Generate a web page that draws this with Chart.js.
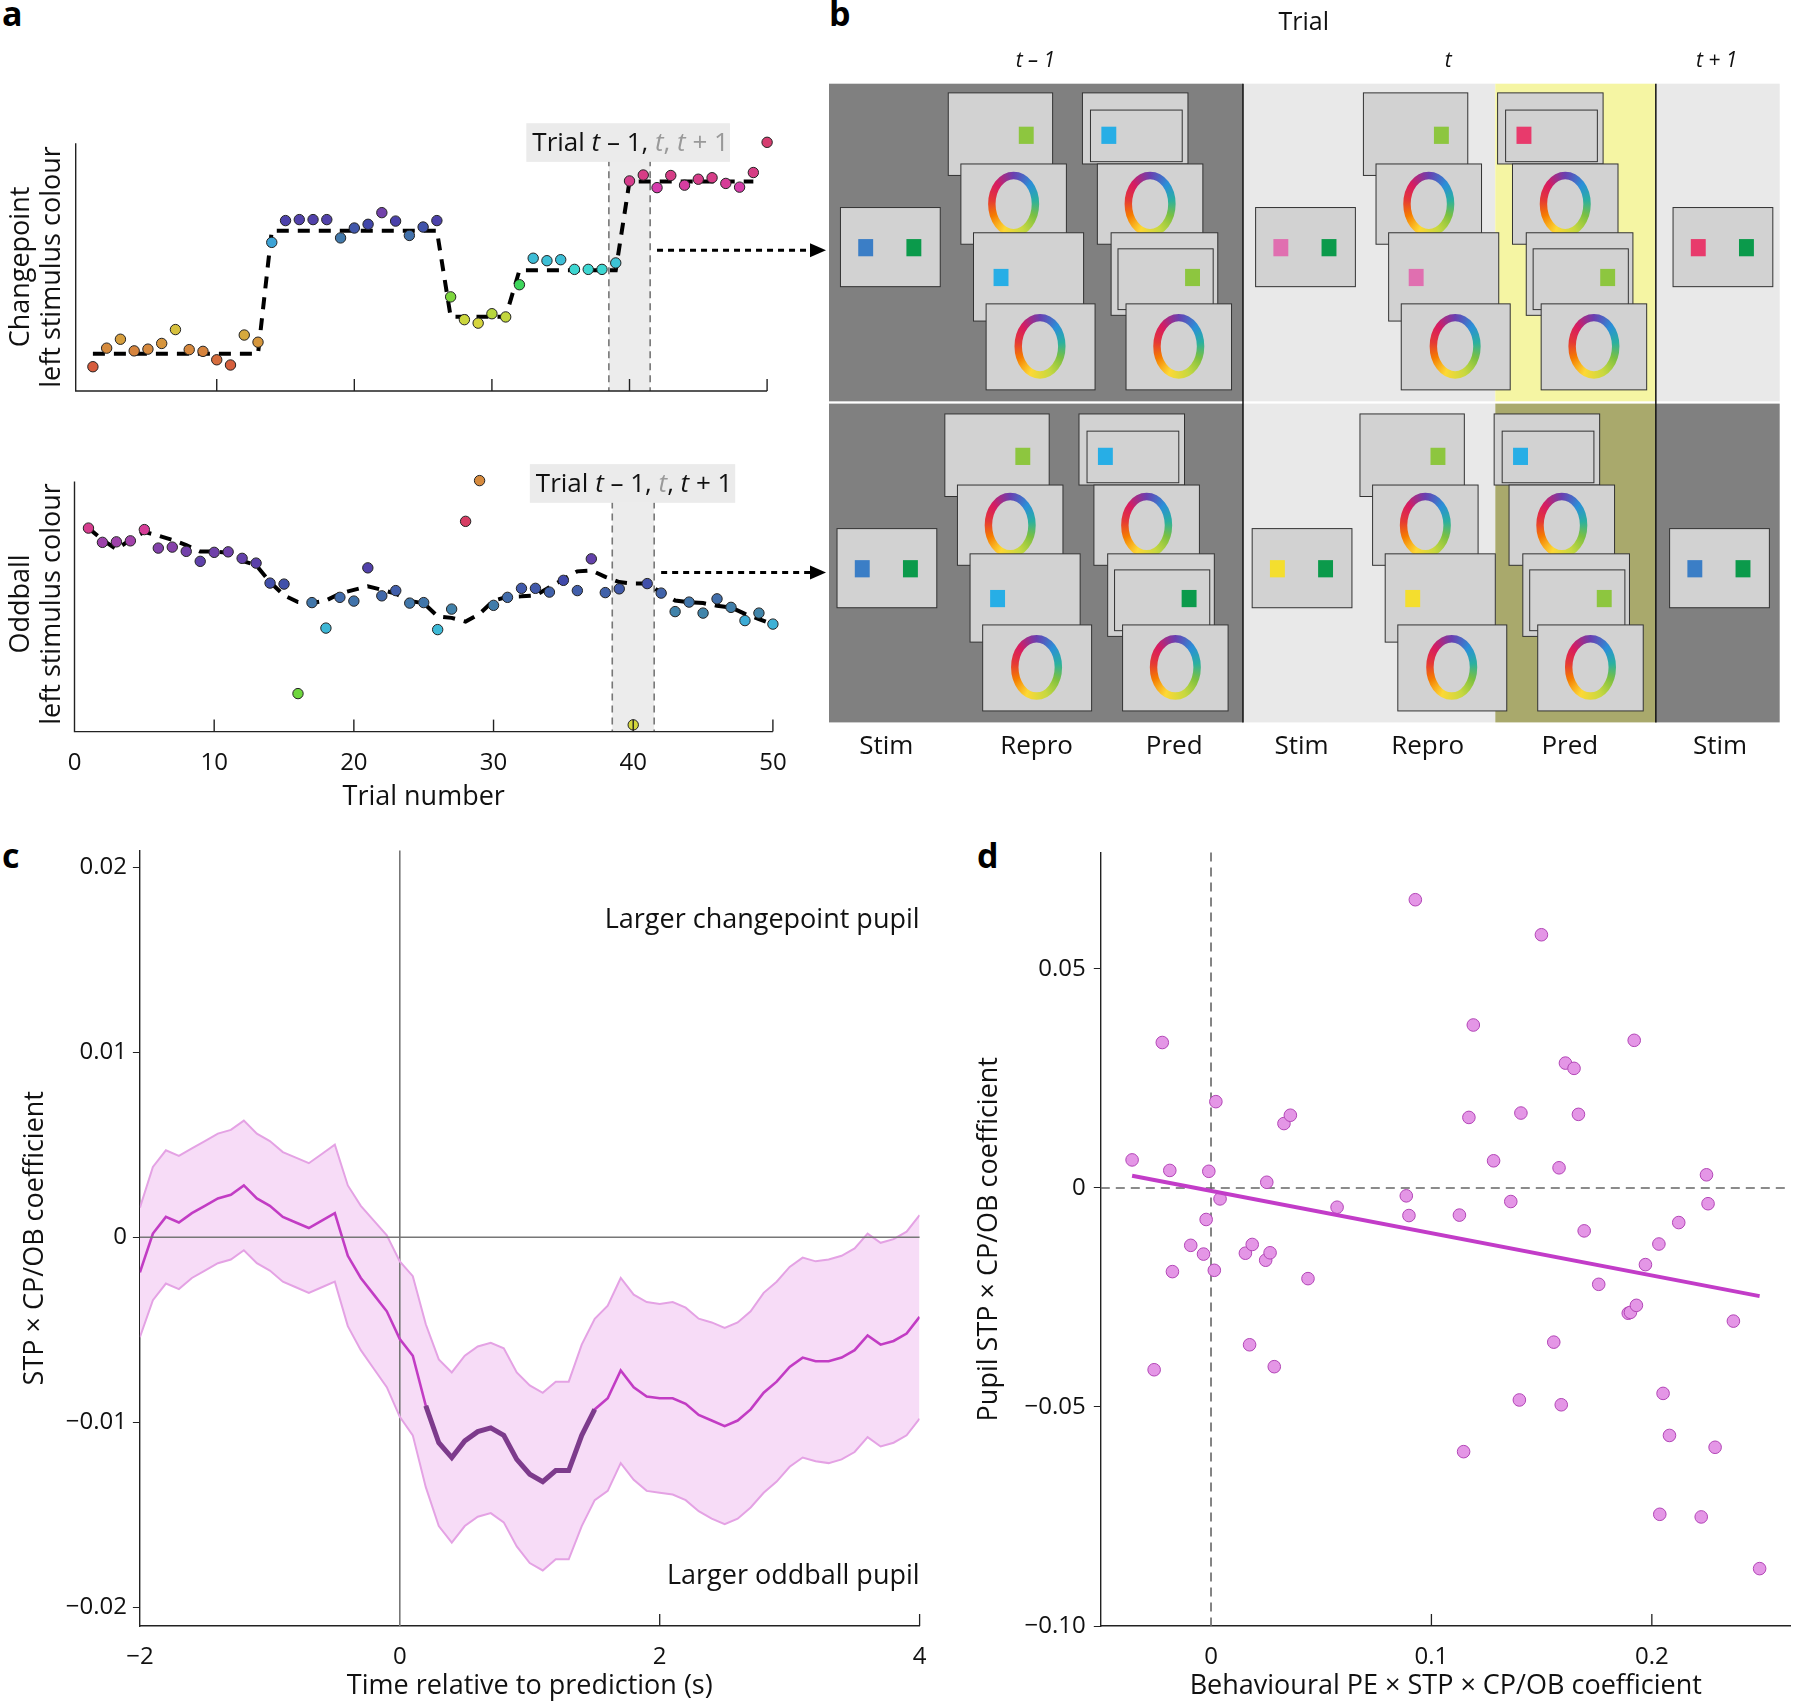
<!DOCTYPE html>
<html><head><meta charset="utf-8">
<script src="https://cdn.jsdelivr.net/npm/chart.js@4.4.1/dist/chart.umd.min.js"></script>
<style>
body{margin:0;background:#fff;width:1798px;height:1703px;position:relative;overflow:hidden;font-family:"Open Sans",sans-serif}
canvas{position:absolute}
.lab{position:absolute;font:bold 34px "Open Sans",sans-serif;color:#000}
</style></head><body>
<div class="lab" style="left:2px;top:-10px">a</div>
<div class="lab" style="left:829px;top:-10px">b</div>
<div class="lab" style="left:2px;top:832px">c</div>
<div class="lab" style="left:977px;top:832px">d</div>
<canvas id="aTop" style="left:0;top:100px" width="830" height="310"></canvas>
<canvas id="aBot" style="left:0;top:440px" width="830" height="380"></canvas>
<canvas id="b" style="left:780px;top:0" width="1018" height="790"></canvas>
<canvas id="c" style="left:0;top:830px" width="940" height="873"></canvas>
<canvas id="d" style="left:940px;top:830px" width="858" height="873"></canvas>
<script>
// ---------- DATA ----------
const trials = Array.from({length:50},(_,i)=>i+1);
const cpValues = [9.8,17.3,20.9,16.2,16.9,19.2,24.8,16.7,16.0,12.6,10.5,22.6,19.7,60.0,68.8,69.2,69.2,69.2,61.8,65.8,67.3,72.0,68.6,62.8,66.2,68.8,38.0,28.8,27.4,31.2,29.9,42.9,53.6,52.6,53.0,49.1,49.1,49.1,51.7,84.8,87.2,82.1,87.0,83.1,85.5,86.1,83.8,82.3,88.2,100.4];
const cpMean = [15,15,15,15,15,15,15,15,15,15,15,15,15,64.7,64.7,64.7,64.7,64.7,64.7,64.7,64.7,64.7,64.7,64.7,64.7,64.7,30,30,30,30,30,48.7,48.7,48.7,48.7,48.7,48.7,48.7,48.7,84.6,84.6,84.6,84.6,84.6,84.6,84.6,84.6,84.6,84.6,null];
const obValues = [81.4,75.7,75.9,76.3,80.8,73.4,73.8,72.1,68.1,71.7,71.9,69.3,67.4,59.4,59.0,15.2,51.6,41.4,53.7,52.2,65.5,54.3,56.4,51.4,51.6,40.8,49.0,84.1,100.4,50.5,53.7,57.3,57.3,55.8,60.5,56.4,69.1,55.6,57.1,2.7,59.2,55.4,48.0,51.8,47.4,53.1,49.7,44.4,47.4,43.0];
const obMean = [81.4,76.7,73,76.7,79.9,78.4,76.7,74.6,72,72,71.5,68.3,66.6,59.8,54.5,51.8,51.4,52.4,55.2,56.7,58.1,56.7,55.2,52.2,51.4,46.1,45.5,44,47.1,52.4,53.9,54.1,54.5,57.7,60.9,64.1,64.5,61.9,59.8,59.2,59.2,55.6,52.4,51.8,51.4,50.3,49.7,47.1,45,42.9];
const trialTicks = [0,10,20,30,40,50];

const timeS = [-2,-1.9,-1.8,-1.7,-1.6,-1.5,-1.4,-1.3,-1.2,-1.1,-1,-0.9,-0.8,-0.7,-0.6,-0.5,-0.4,-0.3,-0.2,-0.1,0,0.1,0.2,0.3,0.4,0.5,0.6,0.7,0.8,0.9,1,1.1,1.2,1.3,1.4,1.5,1.6,1.7,1.8,1.9,2,2.1,2.2,2.3,2.4,2.5,2.6,2.7,2.8,2.9,3,3.1,3.2,3.3,3.4,3.5,3.6,3.7,3.8,3.9,4];
const coefMean = [-0.0019,0.0002,0.0011,0.0008,0.0013,0.0017,0.0021,0.0023,0.0028,0.0021,0.0017,0.0011,0.0008,0.0005,0.0009,0.0013,-0.001,-0.0022,-0.0031,-0.004,-0.0055,-0.0064,-0.0091,-0.0111,-0.0119,-0.011,-0.0105,-0.0103,-0.0107,-0.012,-0.0128,-0.0132,-0.0126,-0.0126,-0.0107,-0.0093,-0.0087,-0.0072,-0.0081,-0.0086,-0.0087,-0.0087,-0.009,-0.0096,-0.0099,-0.0102,-0.0099,-0.0093,-0.0084,-0.0078,-0.007,-0.0065,-0.0067,-0.0067,-0.0065,-0.0061,-0.0053,-0.0058,-0.0056,-0.0052,-0.0043];
const coefHalfCI = [0.0035,0.0036,0.0036,0.0036,0.0035,0.0035,0.0035,0.0035,0.0035,0.0035,0.0035,0.0035,0.0035,0.0035,0.0036,0.0037,0.0038,0.0039,0.004,0.0041,0.0042,0.0043,0.0044,0.0045,0.0046,0.0046,0.0046,0.0046,0.0047,0.0047,0.0048,0.0048,0.0048,0.0048,0.0049,0.0049,0.005,0.005,0.005,0.0051,0.0051,0.0052,0.0052,0.0052,0.0053,0.0053,0.0053,0.0053,0.0054,0.0054,0.0054,0.0054,0.0054,0.0055,0.0055,0.0055,0.0055,0.0055,0.0055,0.0055,0.0055];
const sigStart = 0.2, sigEnd = 1.5;
const cYTicks = [-0.02,-0.01,0,0.01,0.02];
const cYLabels = ['−0.02','−0.01','0','0.01','0.02'];
const cXTicks = [-2,0,2,4];
const cXLabels = ['−2','0','2','4'];

const behavPE = [-0.0358,-0.0221,-0.0258,-0.0187,-0.0175,-0.0092,-0.0034,-0.0022,-0.001,0.0015,0.0022,0.0041,0.0156,0.0175,0.0187,0.0248,0.0253,0.0268,0.0287,0.0331,0.036,0.044,0.0572,0.0886,0.0898,0.0927,0.1127,0.1146,0.117,0.119,0.1282,0.136,0.1399,0.1406,0.1499,0.1555,0.1579,0.1589,0.1608,0.1647,0.1667,0.1693,0.1759,0.1893,0.1903,0.192,0.193,0.1971,0.2032,0.2036,0.2051,0.208,0.2122,0.2224,0.2248,0.2255,0.2287,0.237,0.2489];
const pupilCoef = [0.0064,0.0332,-0.0415,0.004,-0.0191,-0.0131,-0.0151,-0.0072,0.0038,-0.0188,0.0197,-0.0025,-0.0149,-0.0358,-0.0129,-0.0165,0.0013,-0.0148,-0.0408,0.0147,0.0166,-0.0207,-0.0044,-0.0018,-0.0063,0.0658,-0.0062,-0.0602,0.0161,0.0372,0.0062,-0.0031,-0.0484,0.0171,0.0578,-0.0352,0.0046,-0.0495,0.0285,0.0273,0.0168,-0.0098,-0.022,-0.0286,-0.0284,0.0337,-0.0268,-0.0175,-0.0128,-0.0745,-0.0469,-0.0565,-0.0079,-0.0751,0.003,-0.0036,-0.0592,-0.0304,-0.0869];
const fitX = [-0.0358,0.2489];
const fitY = [0.0028,-0.0247];
const dYTicks = [-0.1,-0.05,0,0.05];
const dYLabels = ['−0.10','−0.05','0','0.05'];
const dXTicks = [0,0.1,0.2];
const dXLabels = ['0','0.1','0.2'];

// ---------- helpers ----------
const FONT = '"Open Sans", sans-serif';
const TICK = 24, TITLE = 27;
Chart.defaults.font.family = FONT;
Chart.defaults.color = '#111';
Chart.defaults.animation = false;
function interpHue(v, pts){
  if(v<=pts[0][0]) return pts[0][1];
  for(let i=1;i<pts.length;i++){ if(v<=pts[i][0]){const a=pts[i-1],b=pts[i];return a[1]+(b[1]-a[1])*(v-a[0])/(b[0]-a[0]);} }
  return pts[pts.length-1][1];
}
const cpHue = [[10,12],[17,30],[22,40],[25,52],[29,65],[38,95],[50,185],[60,200],[66,228],[72,268],[85,330],[100,340]];
const obHue = [[0,52],[15,100],[40,190],[50,205],[58,228],[72,268],[84,345],[100,390]];
const hsl = h=>{h=h%360; const blue=(h>200&&h<300); return `hsl(${h},${blue?45:65}%,${blue?46:54}%)`;};
const fixTicks = arr => s => { s.ticks = arr.map(v=>({value:v})); };

function panelAPlugin(opts){
  return {id:'pa', beforeDatasetsDraw(ch){
    const c=ch.ctx, x=ch.scales.x, y=ch.scales.y, a=ch.chartArea;
    const x1=x.getPixelForValue(38.5), x2=x.getPixelForValue(41.5), yt=y.getPixelForValue(opts.bandTop);
    c.save(); c.fillStyle='#ececec'; c.fillRect(x1,yt,x2-x1,a.bottom-yt);
    c.strokeStyle='#777'; c.lineWidth=1.6; c.setLineDash([7,5]);
    [x1,x2].forEach(px=>{c.beginPath();c.moveTo(px,yt);c.lineTo(px,a.bottom);c.stroke();});
    c.restore();
  }, afterDatasetsDraw(ch){
    const c=ch.ctx, x=ch.scales.x, y=ch.scales.y, a=ch.chartArea;
    c.save();
    c.strokeStyle='#222'; c.lineWidth=1.4; c.setLineDash([]);
    c.beginPath(); c.moveTo(a.left,y.getPixelForValue(opts.axisTop)); c.lineTo(a.left,a.bottom); c.lineTo(a.right,a.bottom); c.stroke();
    trialTicks.forEach(t=>{ if(t<=0) return; const px=x.getPixelForValue(t); c.beginPath(); c.moveTo(px,a.bottom); c.lineTo(px,a.bottom-12); c.stroke(); });
    const bx1=x.getPixelForValue(opts.box[0]), bx2=x.getPixelForValue(opts.box[1]);
    const by1=y.getPixelForValue(opts.box[2]), by2=y.getPixelForValue(opts.box[3]);
    c.fillStyle='#ebebeb'; c.fillRect(bx1,by1,bx2-bx1,by2-by1);
    const parts=opts.parts; let px=bx1+6; const py=(by1+by2)/2+1;
    c.textBaseline='middle';
    parts.forEach(p=>{ c.font=(p[1]?'italic ':'')+'26px '+FONT; c.fillStyle=p[2]?'#999':'#111'; c.fillText(p[0],px,py); px+=c.measureText(p[0]).width; });
    const ay=y.getPixelForValue(opts.arrowY), ax1=x.getPixelForValue(42), ax2=826;
    c.strokeStyle='#000'; c.lineWidth=3; c.setLineDash([6,5]);
    c.beginPath(); c.moveTo(ax1,ay); c.lineTo(ax2-14,ay); c.stroke(); c.setLineDash([]);
    c.fillStyle='#000'; c.beginPath(); c.moveTo(ax2,ay); c.lineTo(ax2-16,ay-7); c.lineTo(ax2-16,ay+7); c.closePath(); c.fill();
    c.font=TITLE+'px '+FONT; c.fillStyle='#111'; c.textAlign='center';
    c.translate(0,opts.titleY); c.rotate(-Math.PI/2);
    c.fillText(opts.t1,0,21); c.fillText('left stimulus colour',0,52);
    c.restore();
  }};
}

function aChart(id, vals, mean, hue, opts, showX){
  const pts = trials.map((t,i)=>({x:t,y:vals[i]}));
  const mpts = trials.map((t,i)=>({x:t,y:mean[i]}));
  new Chart(document.getElementById(id),{
    type:'scatter',
    data:{datasets:[
      {type:'line',data:mpts,borderColor:'#000',borderWidth:4,borderDash:[12,9],pointRadius:0,spanGaps:false,clip:false,order:2},
      {data:pts,pointRadius:5.2,pointBackgroundColor:vals.map(v=>hsl(interpHue(v,hue))),pointBorderColor:'#222',pointBorderWidth:1,clip:false,order:1}
    ]},
    options:{responsive:false,plugins:{legend:{display:false},tooltip:{enabled:false}},
      layout:{padding:opts.pad},
      scales:{
        x:{type:'linear',min:opts.xmin,max:50,display:showX,grid:{display:false},border:{display:false},
          afterBuildTicks:fixTicks(trialTicks),
          ticks:{font:{size:TICK},padding:9,color:'#111'},
          title:{display:showX,text:'Trial number',font:{size:TITLE},padding:{top:0,bottom:6},color:'#111'},
          afterFit:s=>{s.height=opts.xh;}},
        y:{min:0,max:100,display:false}
      }},
    plugins:[panelAPlugin(opts)]
  });
}
aChart('aTop',cpValues,cpMean,cpHue,{pad:{left:75.7,right:62.9,top:43.3,bottom:19},xmin:-0.25,xh:0,bandTop:93.6,axisTop:100,
  box:[32.5,47.3,108.1,92.5],parts:[['Trial ',0,0],['t',1,0],[' – 1, ',0,0],['t',1,1],[', ',0,1],['t',1,1],[' + 1',0,1]],arrowY:56.8,titleY:167,t1:'Changepoint'},false);
aChart('aBot',obValues,obMean,obHue,{pad:{left:74.5,right:57.1,top:41.6,bottom:0},xmin:0,xh:88.4,bandTop:92,axisTop:100,
  box:[32.6,47.3,107,91.5],parts:[['Trial ',0,0],['t',1,0],[' – 1, ',0,0],['t',1,1],[', ',0,0],['t',1,0],[' + 1',0,0]],arrowY:63.6,titleY:164,t1:'Oddball'},true);

// ---------- panel b (schematic) ----------
const COL={blue:'#3b7ec6',dgreen:'#0b9a4b',lgreen:'#8dc63f',cyan:'#27aee6',pink:'#e06fb0',red:'#e83a6c',yellow:'#f4de2e'};
const bColumns=[
  {ox:0,oy:0,stim:['blue','dgreen'],repro:['lgreen','cyan'],pred:['cyan','lgreen']},
  {ox:362,oy:0,stim:['pink','dgreen'],repro:['lgreen','pink'],pred:['red','lgreen']},
  {ox:726,oy:0,stim:['red','dgreen']},
  {ox:-3,oy:280,stim:['blue','dgreen'],repro:['lgreen','cyan'],pred:['cyan','dgreen']},
  {ox:359,oy:280,stim:['yellow','dgreen'],repro:['lgreen','yellow'],pred:['cyan','lgreen']},
  {ox:723,oy:280,stim:['blue','dgreen']}
];
const bHeaders=[['Trial',1137,20,0],['t – 1',903,53,1],['t',1263,53,1],['t + 1',1497,53,1]];
const bPhases=[['Stim',773],['Repro',904],['Pred',1024],['Stim',1135],['Repro',1245],['Pred',1369],['Stim',1500]];
const bPlugin={id:'pb',afterDraw(ch){
  const c=ch.ctx,xs=ch.scales.x,ys=ch.scales.y;
  const X=u=>xs.getPixelForValue(u),Y=v=>ys.getPixelForValue(v);
  const k=(X(1552)-X(723))/829;
  const rect=(x1,y1,x2,y2,fill)=>{c.fillStyle=fill;c.fillRect(X(x1),Y(y1),X(x2)-X(x1),Y(y2)-Y(y1));};
  c.save();
  [[723,1084,'#808080'],[1084,1304,'#e9e9e9'],[1304,1444,'#f5f5a3'],[1444,1552,'#e9e9e9']].forEach(r=>rect(r[0],73,r[1],350,r[2]));
  [[723,1084,'#808080'],[1084,1304,'#e9e9e9'],[1304,1444,'#a9a96c'],[1444,1552,'#808080']].forEach(r=>rect(r[0],352,r[1],630,r[2]));
  c.strokeStyle='#111';c.lineWidth=1.5;
  [1084,1444].forEach(u=>{c.beginPath();c.moveTo(X(u),Y(73));c.lineTo(X(u),Y(630));c.stroke();});
  const screen=(x1,y1,x2,y2)=>{rect(x1,y1,x2,y2,'#d2d2d2');c.strokeStyle='#333';c.lineWidth=1;c.strokeRect(X(x1),Y(y1),X(x2)-X(x1),Y(y2)-Y(y1));};
  const frame=(x1,y1,x2,y2)=>{c.strokeStyle='#333';c.lineWidth=1;c.strokeRect(X(x1),Y(y1),X(x2)-X(x1),Y(y2)-Y(y1));};
  const sq=(cx,cy,col)=>rect(cx-6.5,cy-7.5,cx+6.5,cy+7.5,COL[col]);
  const ring=(cx,cy)=>{const g=c.createConicGradient(-Math.PI/2,X(cx),Y(cy));
    ['#6a3fb0','#2a8fd8','#2ab0a0','#7cc040','#c8d840','#fdd835','#f57c00','#e53935','#d81b60','#6a3fb0'].forEach((cl,i)=>g.addColorStop(i/9,cl));
    c.strokeStyle=g;c.lineWidth=6.5*k;c.beginPath();c.ellipse(X(cx),Y(cy),19*k,25*k,0,0,Math.PI*2);c.stroke();};
  bColumns.forEach(col=>{
    const ox=col.ox,oy=col.oy;
    screen(733+ox,181+oy,820+ox,250+oy); sq(755+ox,216+oy,col.stim[0]); sq(797+ox,216+oy,col.stim[1]);
    if(col.repro){
      screen(827+ox,81+oy,918+ox,153+oy); sq(895+ox,118+oy,col.repro[0]);
      screen(838+ox,143+oy,930+ox,213+oy); ring(884+ox,178+oy);
      screen(849+ox,203+oy,945+ox,280+oy); sq(873+ox,242+oy,col.repro[1]);
      screen(860+ox,265+oy,955+ox,340+oy); ring(907+ox,302+oy);
      screen(944+ox,81+oy,1036+ox,143+oy); frame(951+ox,96+oy,1031+ox,141+oy); sq(967+ox,118+oy,col.pred[0]);
      screen(957+ox,143+oy,1049+ox,213+oy); ring(1003+ox,178+oy);
      screen(969+ox,203+oy,1062+ox,275+oy); frame(975+ox,217+oy,1058+ox,270+oy); sq(1040+ox,242+oy,col.pred[1]);
      screen(982+ox,265+oy,1074+ox,340+oy); ring(1028+ox,302+oy);
    }
  });
  c.fillStyle='#111';c.textAlign='center';c.textBaseline='middle';
  bHeaders.forEach(h=>{c.font=(h[3]?'italic 21px ':'25px ')+FONT;c.fillText(h[0],X(h[1]),Y(h[2]));});
  c.font='26px '+FONT;
  bPhases.forEach(p=>c.fillText(p[0],X(p[1]),Y(651)));
  c.restore();
}};
new Chart(document.getElementById('b'),{type:'scatter',data:{datasets:[{data:[]}]},
  options:{responsive:false,layout:{padding:{left:49,top:83.7,right:18.3,bottom:67.6}},plugins:{legend:{display:false},tooltip:{enabled:false}},
    scales:{x:{min:723,max:1552,display:false},y:{min:73,max:630,reverse:true,display:false}}},plugins:[bPlugin]});

// ---------- panel c ----------
const lab=(ticks,labels)=>v=>{const i=ticks.findIndex(t=>Math.abs(t-v)<1e-9);return i<0?'':labels[i];};
const cMean=timeS.map((t,i)=>({x:t,y:coefMean[i]}));
const cUp=timeS.map((t,i)=>({x:t,y:coefMean[i]+coefHalfCI[i]}));
const cLo=timeS.map((t,i)=>({x:t,y:coefMean[i]-coefHalfCI[i]}));
const cSig=timeS.map((t,i)=>({x:t,y:(t>=sigStart-1e-9&&t<=sigEnd+1e-9)?coefMean[i]:null}));
const cPlugin={id:'pc',beforeDatasetsDraw(ch){
  const c=ch.ctx,x=ch.scales.x,a=ch.chartArea;
  c.save();c.strokeStyle='#777';c.lineWidth=1.6;
  c.beginPath();c.moveTo(x.getPixelForValue(0),a.top);c.lineTo(x.getPixelForValue(0),a.bottom);c.stroke();
  c.restore();
},afterDatasetsDraw(ch){
  const c=ch.ctx,x=ch.scales.x,y=ch.scales.y,a=ch.chartArea;
  c.save();c.strokeStyle='#777';c.lineWidth=1.6;
  c.beginPath();c.moveTo(a.left,y.getPixelForValue(0));c.lineTo(a.right,y.getPixelForValue(0));c.stroke();
  c.strokeStyle='#222';c.lineWidth=1.3;
  [2,4].forEach(t=>{const px=x.getPixelForValue(t);c.beginPath();c.moveTo(px,a.bottom);c.lineTo(px,a.bottom-12);c.stroke();});
  c.font=TITLE+'px '+FONT;c.fillStyle='#111';c.textAlign='right';c.textBaseline='middle';
  c.fillText('Larger changepoint pupil',a.right,803*1.1467-830);
  c.fillText('Larger oddball pupil',a.right,1375*1.1467-830);
  c.restore();
}};
new Chart(document.getElementById('c'),{type:'line',
  data:{datasets:[
    {data:cLo,borderColor:'#e4a2e4',borderWidth:2,pointRadius:0,fill:false,order:4},
    {data:cUp,borderColor:'#e4a2e4',borderWidth:2,pointRadius:0,fill:'-1',backgroundColor:'#f7dcf7',order:3},
    {data:cMean,borderColor:'#c23cc4',borderWidth:2.6,pointRadius:0,order:2},
    {data:cSig,borderColor:'#7d3b8c',borderWidth:5,pointRadius:0,spanGaps:false,order:1}
  ]},
  options:{responsive:false,plugins:{legend:{display:false},tooltip:{enabled:false},filler:{drawTime:'beforeDatasetsDraw'}},layout:{padding:{left:0,right:20.4,top:15,bottom:0}},
    scales:{
      x:{type:'linear',min:-2,max:4,afterBuildTicks:fixTicks(cXTicks),grid:{display:false},border:{color:'#222',width:1.4},
        ticks:{font:{size:TICK},padding:9,color:'#111',callback:lab(cXTicks,cXLabels)},
        title:{display:true,text:'Time relative to prediction (s)',font:{size:TITLE},padding:{top:0,bottom:0},color:'#111'},
        afterFit:s=>{s.height=77;}},
      y:{min:-0.021,max:0.0209,afterBuildTicks:fixTicks(cYTicks),grid:{drawOnChartArea:false,tickLength:7,color:'#222'},border:{color:'#222',width:1.4},
        ticks:{font:{size:TICK},padding:6,color:'#111',callback:lab(cYTicks,cYLabels)},
        title:{display:true,text:'STP × CP/OB coefficient',font:{size:TITLE},padding:{top:19,bottom:0},color:'#111'},
        afterFit:s=>{s.width=139.9;}}
    }},plugins:[cPlugin]});

// ---------- panel d ----------
const dPts=behavPE.map((v,i)=>({x:v,y:pupilCoef[i]}));
const dFit=fitX.map((v,i)=>({x:v,y:fitY[i]}));
const dPlugin={id:'pd',beforeDatasetsDraw(ch){
  const c=ch.ctx,x=ch.scales.x,y=ch.scales.y,a=ch.chartArea;
  c.save();c.strokeStyle='#666';c.lineWidth=1.6;c.setLineDash([9,6]);
  c.beginPath();c.moveTo(x.getPixelForValue(0),a.top);c.lineTo(x.getPixelForValue(0),a.bottom);c.stroke();
  c.beginPath();c.moveTo(a.left,y.getPixelForValue(0));c.lineTo(a.right,y.getPixelForValue(0));c.stroke();
  c.setLineDash([]);c.strokeStyle='#222';c.lineWidth=1.3;
  [0.1,0.2].forEach(t=>{const px=x.getPixelForValue(t);c.beginPath();c.moveTo(px,a.bottom);c.lineTo(px,a.bottom-12);c.stroke();});
  c.restore();
}};
new Chart(document.getElementById('d'),{type:'scatter',
  data:{datasets:[
    {data:dPts,pointRadius:6.3,pointBackgroundColor:'#e496e6',pointBorderColor:'#b246b6',pointBorderWidth:1,order:2},
    {type:'line',data:dFit,borderColor:'#c23cc8',borderWidth:4,pointRadius:0,order:1}
  ]},
  options:{responsive:false,plugins:{legend:{display:false},tooltip:{enabled:false}},layout:{padding:{left:0,right:0,top:15,bottom:0}},
    scales:{
      x:{type:'linear',min:-0.05,max:0.263,afterBuildTicks:fixTicks(dXTicks),grid:{display:false},border:{color:'#222',width:1.4},
        ticks:{font:{size:TICK},padding:9,color:'#111',callback:lab(dXTicks,dXLabels)},
        title:{display:true,text:'Behavioural PE × STP × CP/OB coefficient',font:{size:TITLE},padding:{top:0,bottom:0},color:'#111'},
        afterFit:s=>{s.height=77;}},
      y:{min:-0.1,max:0.0766,afterBuildTicks:fixTicks(dYTicks),grid:{drawOnChartArea:false,tickLength:7,color:'#222'},border:{color:'#222',width:1.4},
        ticks:{font:{size:TICK},padding:8,color:'#111',callback:lab(dYTicks,dYLabels)},
        title:{display:true,text:'Pupil STP × CP/OB coefficient',font:{size:TITLE},padding:{top:33,bottom:0},color:'#111'},
        afterFit:s=>{s.width=160.8;}}
    }},plugins:[dPlugin]});
</script></body></html>
